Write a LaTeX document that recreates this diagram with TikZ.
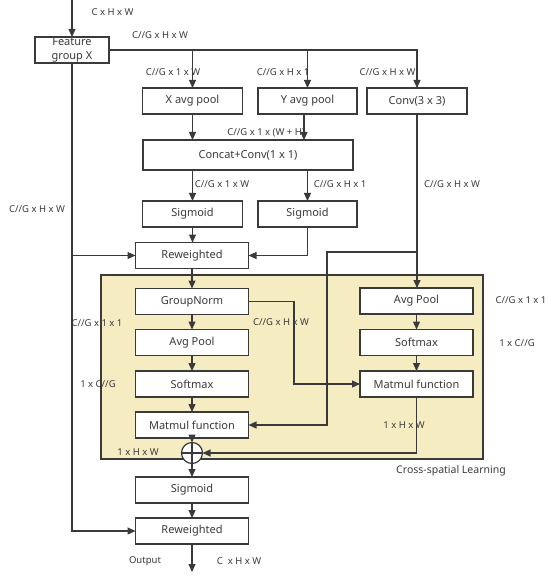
\documentclass[tikz,border=0pt]{standalone}
\usepackage{fontspec}
\setmainfont{Noto Sans}
\usetikzlibrary{arrows.meta}

\definecolor{linegray}{HTML}{3A3A3A}
\definecolor{areayellow}{HTML}{F6ECC2}

\begin{document}
\begin{tikzpicture}[x={(1pt,0pt)},y={(0pt,-1pt)},
  every node/.style={outer sep=0pt, text=linegray},
  box/.style={draw=linegray, line width=1.2pt, fill=white, minimum height=26pt, minimum width=113pt, inner sep=0pt, font=\fontsize{11}{13}\selectfont},
  dim/.style={inner sep=0pt, font=\fontsize{9.5}{11}\selectfont},
  arr/.style={draw=linegray, line width=1.2pt, -{Triangle[length=8pt,width=7pt]}},
  ln/.style={draw=linegray, line width=1.2pt}]

\useasboundingbox (0,0) rectangle (550,577);

% cross-spatial area
\draw[fill=areayellow, draw=linegray, line width=1.2pt] (101,275) rectangle (483,459);

% boxes
\node[box, minimum width=74pt, align=center, font=\fontsize{11}{14}\selectfont] (feat) at (72,50) {Feature\\group X};
\node[box, minimum width=100pt] (xpool) at (192.5,101) {X avg pool};
\node[box, minimum width=99pt] (ypool) at (307.5,101) {Y avg pool};
\node[box, minimum width=100pt] (conv) at (417,101) {Conv(3 x 3)};
\node[box, minimum width=210pt, minimum height=30pt] (concat) at (248,155) {Concat+Conv(1 x 1)};
\node[box, minimum width=100pt] (sigx) at (192.5,214) {Sigmoid};
\node[box, minimum width=99pt] (sigy) at (307.5,214) {Sigmoid};
\node[box] (rewa) at (192,255.5) {Reweighted};
\node[box] (gnorm) at (192,301.5) {GroupNorm};
\node[box] (apoolL) at (192,342.5) {Avg Pool};
\node[box] (smaxL) at (192,384) {Softmax};
\node[box] (mmulL) at (192,425) {Matmul function};
\node[box] (apoolR) at (416.5,301) {Avg Pool};
\node[box] (smaxR) at (416.5,342.5) {Softmax};
\node[box] (mmulR) at (416.5,384) {Matmul function};
\node[draw=linegray, line width=1.2pt, circle, fill=white, minimum size=21pt, inner sep=0pt] (plus) at (192,453) {};
\draw[ln] (plus.north) -- (plus.south) (plus.west) -- (plus.east);
\node[box] (sigout) at (192,490) {Sigmoid};
\node[box] (rewb) at (192,531) {Reweighted};

\coordinate (in) at (72,0);
\coordinate (out) at (192,572);
\coordinate (tap) at (327,252);
\coordinate (gnx) at (294,340);

% connectors
\draw[arr] (in) -- (feat);
\draw[arr] (feat.east) -| (conv.north);
\draw[arr] (xpool.north |- feat.east) -- (xpool.north);
\draw[arr] (ypool.north |- feat.east) -- (ypool.north);
\draw[arr] (xpool.south) -- (xpool.south |- concat.north);
\draw[arr] ([xshift=-3.5pt]ypool.south) -- ([xshift=-3.5pt]ypool.south |- concat.north);
\draw[arr] (sigx.north |- concat.south) -- (sigx.north);
\draw[arr] (sigy.north |- concat.south) -- (sigy.north);
\draw[arr] (sigx.south) -- (sigx.south |- rewa.north);
\draw[arr] (sigy.south) |- (rewa.east);
\draw[arr] (feat.south) |- (rewb.west);
\draw[arr] (feat.south |- rewa.west) -- (rewa.west);
\draw[arr] (conv.south) -- (conv.south |- apoolR.north);
\draw[arr] (conv.south |- tap) -- (tap) |- (mmulL.east);
\draw[arr] (rewa) -- (gnorm);
\draw[arr] (gnorm) -- (apoolL);
\draw[arr] (apoolL) -- (smaxL);
\draw[arr] (smaxL) -- (mmulL);
\draw[arr] (gnorm.east) -| (gnx) |- (mmulR.west);
\draw[arr] (apoolR) -- (smaxR);
\draw[arr] (smaxR) -- (mmulR);
\draw[arr] (mmulR.south) |- (plus.east);
\draw[arr] (mmulL) -- (plus);
\draw[arr] (plus) -- (sigout);
\draw[arr] (sigout) -- (rewb);
\draw[arr] (rewb) -- (out);

% dimensions
\node[dim] (d-in) at (112.5,12) {C x H x W};
\node[dim] (d-split) at (160,35) {C//G x H x W};
\node[dim] (d-xp) at (173,72) {C//G x 1 x W};
\node[dim] (d-yp) at (283,72) {C//G x H x 1};
\node[dim] (d-cv) at (387.5,72) {C//G x H x W};
\node[dim] (d-cat) at (266,133) {C//G x 1 x (W + H)};
\node[dim] (d-sx) at (222,184) {C//G x 1 x W};
\node[dim] (d-sy) at (340,184) {C//G x H x 1};
\node[dim] (d-cvd) at (452,184) {C//G x H x W};
\node[dim] (d-skip) at (37,209) {C//G x H x W};
\node[dim] (d-apL) at (97,323) {C//G x 1 x 1};
\node[dim] (d-gn) at (281,322) {C//G x H x W};
\node[dim] (d-smL) at (98,384) {1 x C//G};
\node[dim] (d-mmL) at (138,452) {1 x H x W};
\node[dim] (d-mmR) at (404,425) {1 x H x W};
\node[dim] (d-apR) at (521,300) {C//G x 1 x 1};
\node[dim] (d-smR) at (517,343) {1 x C//G};
\node[dim, font=\fontsize{10.5}{12}\selectfont] (d-area) at (451,471) {Cross-spatial Learning};
\node[dim] (d-outl) at (145,561) {Output};
\node[dim] (d-out) at (239,561) {C~ x H x W};
\end{tikzpicture}
\end{document}
